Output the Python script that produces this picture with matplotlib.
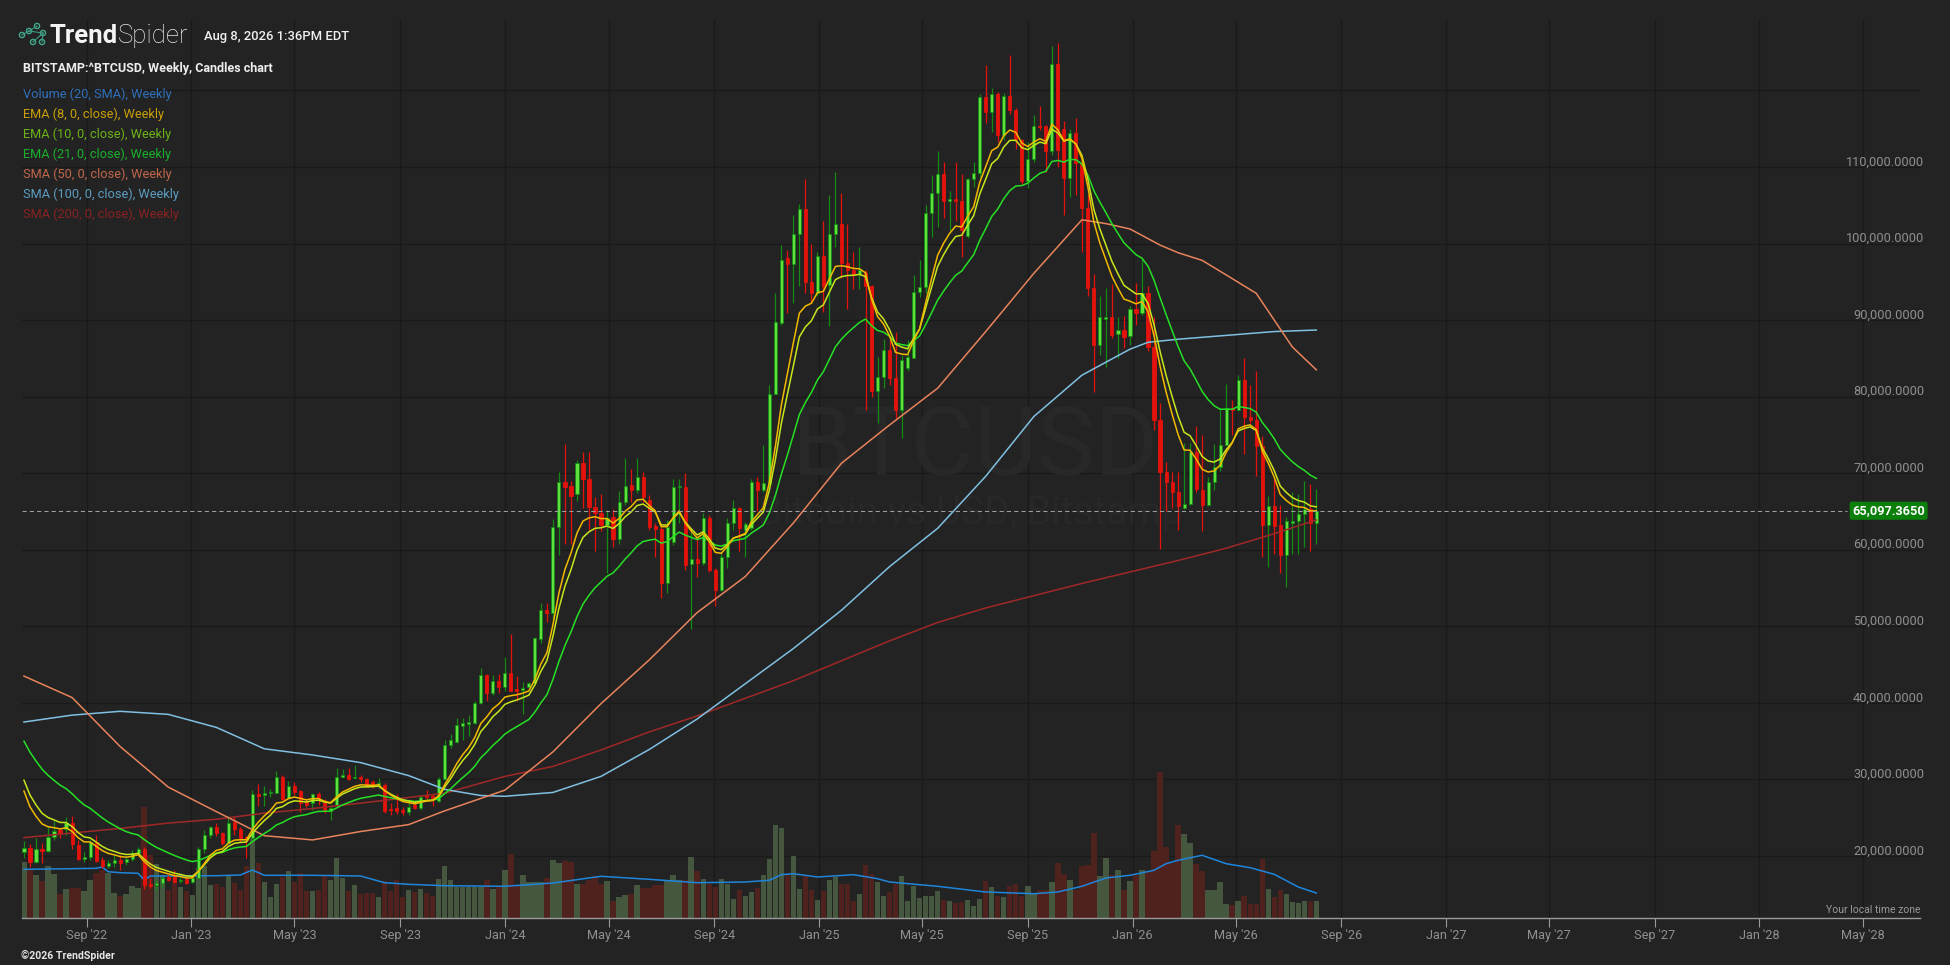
import numpy as np
import matplotlib
matplotlib.use("Agg")
import matplotlib.pyplot as plt
import matplotlib.dates as mdates
from matplotlib.transforms import blended_transform_factory, Affine2D, offset_copy, IdentityTransform
from matplotlib.patches import Circle
from matplotlib.lines import Line2D

# ---------------- data (prices in thousand USD, weekly candles) ----------------
FIRST_WEEK = "2022-06-20"
OPEN = [20.5, 21.0, 19.26, 20.9, 20.7, 22.5, 23.4, 23.5, 24.26, 21.5,
        19.6, 19.9, 21.87, 19.48, 18.74, 19.04, 19.48, 19.17, 19.6, 20.43,
        20.9, 16.35, 16.2, 16.5, 17.2, 17.2, 16.7, 16.96, 16.56, 17.1,
        20.87, 22.74, 23.74, 22.96, 21.65, 24.4, 23.48, 22.43, 22.3, 28.1,
        27.96, 28.17, 28.26, 30.35, 27.52, 29.2, 28.48, 27.0, 26.87, 28.09,
        26.96, 25.9, 26.65, 30.35, 30.57, 30.17, 30.35, 30.0, 29.7, 29.26,
        29.26, 26.2, 26.22, 26.0, 25.78, 26.65, 26.22, 27.96, 27.87, 27.2,
        30.0, 34.5, 34.9, 37.0, 37.3, 37.4, 40.0, 43.7, 41.25, 42.9,
        42.1, 43.85, 41.77, 41.7, 42.1, 42.55, 48.4, 52.1, 51.7, 63.0,
        68.9, 68.3, 67.3, 71.3, 69.3, 65.6, 64.85, 63.2, 64.3, 61.4,
        66.2, 68.5, 67.8, 69.55, 66.5, 63.1, 62.7, 55.7, 61.0, 68.2,
        68.2, 58.1, 58.75, 58.3, 64.2, 57.35, 54.75, 59.1, 63.5, 65.4,
        62.6, 62.8, 68.9, 67.8, 68.7, 80.4, 89.6, 98.1, 97.3, 101.2,
        104.5, 95.0, 93.5, 98.4, 94.6, 101.2, 102.6, 97.4, 96.6, 96.0,
        96.1, 94.4, 80.7, 82.5, 86.1, 82.4, 78.3, 83.7, 85.1, 93.7,
        94.3, 104.0, 106.6, 109.1, 105.6, 105.8, 105.6, 101.0, 108.4, 109.2,
        119.1, 117.2, 119.5, 114.2, 119.3, 117.4, 113.5, 108.2, 111.1, 115.4,
        115.4, 112.1, 123.5, 115.0, 108.6, 114.5, 110.5, 104.6, 94.2, 86.7,
        90.2, 90.4, 88.2, 88.7, 87.9, 91.5, 90.9, 93.5, 86.5, 76.9,
        70.2, 68.8, 67.6, 65.5, 66.0, 72.8, 67.8, 65.8, 68.9, 70.8,
        73.7, 78.5, 78.3, 82.2, 77.4, 77.0, 73.5, 63.2, 65.7, 63.2,
        59.3, 63.5, 63.7, 64.7, 65.3, 63.5]
HIGH = [21.9, 21.57, 22.3, 21.65, 23.83, 24.6, 23.7, 25.05, 25.2, 22.1,
        20.57, 22.1, 22.74, 19.9, 19.48, 20.1, 20.1, 19.9, 20.78, 21.2,
        21.2, 17.1, 16.87, 17.3, 17.5, 18.17, 17.1, 17.1, 17.3, 21.2,
        23.4, 23.9, 24.35, 23.17, 25.2, 25.13, 23.74, 22.6, 28.6, 29.4,
        29.13, 28.74, 31.13, 30.57, 29.83, 29.7, 28.6, 27.4, 28.26, 28.4,
        27.4, 26.6, 31.43, 31.3, 31.43, 31.87, 30.57, 30.13, 29.9, 30.13,
        29.48, 26.87, 28.09, 26.43, 26.96, 27.2, 27.96, 28.6, 28.09, 30.35,
        35.13, 35.9, 38.0, 38.0, 38.4, 40.3, 44.6, 43.8, 43.7, 43.8,
        45.95, 49.0, 43.5, 42.77, 42.77, 48.65, 53.0, 53.1, 64.0, 70.2,
        73.8, 69.0, 71.7, 72.8, 72.8, 66.9, 67.3, 65.2, 65.3, 67.7,
        72.0, 70.6, 72.0, 70.2, 67.2, 63.5, 63.0, 63.9, 69.3, 69.3,
        70.0, 62.6, 61.7, 64.85, 64.5, 57.6, 59.75, 64.1, 66.5, 65.6,
        63.6, 69.3, 69.5, 73.7, 81.5, 93.5, 99.8, 99.1, 103.7, 105.2,
        108.4, 99.9, 98.9, 102.9, 106.3, 109.4, 106.6, 102.6, 98.9, 99.6,
        96.5, 94.6, 85.2, 87.5, 87.4, 88.5, 85.4, 87.4, 95.9, 97.9,
        105.0, 108.9, 112.1, 110.7, 106.8, 110.6, 109.1, 108.5, 110.7, 119.5,
        123.3, 120.3, 119.8, 119.6, 124.6, 117.7, 113.7, 113.3, 116.8, 118.0,
        115.5, 125.8, 126.2, 116.0, 115.0, 116.4, 110.9, 106.3, 96.0, 93.1,
        94.2, 94.7, 90.4, 90.5, 91.8, 94.8, 98.1, 94.4, 90.4, 79.2,
        71.5, 70.1, 70.1, 74.0, 73.9, 76.1, 75.0, 69.5, 73.8, 78.5,
        81.7, 79.6, 82.8, 85.1, 81.5, 83.3, 74.8, 67.0, 69.3, 65.8,
        64.3, 67.5, 67.3, 69.0, 68.6, 68.0]
LOW = [19.7, 18.6, 19.13, 19.04, 20.57, 22.1, 22.4, 22.74, 20.87, 19.48,
       19.26, 19.48, 19.26, 18.4, 18.4, 18.6, 18.17, 18.8, 19.39, 20.35,
       15.65, 15.8, 15.5, 16.0, 16.78, 16.56, 16.43, 16.35, 16.43, 16.96,
       20.43, 22.4, 22.65, 21.43, 21.57, 22.74, 21.87, 19.7, 22.17, 26.57,
       26.57, 27.65, 28.17, 27.3, 27.43, 27.96, 25.78, 26.43, 26.0, 26.65,
       25.65, 24.7, 26.43, 30.13, 29.9, 30.0, 29.7, 29.04, 28.83, 28.83,
       25.57, 25.35, 25.48, 25.35, 25.35, 26.09, 26.0, 27.4, 26.52, 27.09,
       29.9, 34.1, 34.7, 35.1, 35.7, 37.3, 39.85, 40.3, 41.0, 41.25,
       41.5, 41.5, 40.3, 38.6, 41.9, 42.47, 47.8, 50.6, 51.0, 59.3,
       60.8, 60.8, 66.4, 65.4, 62.6, 59.9, 62.5, 56.9, 60.3, 60.8,
       65.85, 66.2, 67.4, 66.3, 62.6, 59.1, 53.7, 54.4, 60.6, 63.5,
       57.3, 49.7, 56.5, 58.0, 57.1, 52.6, 54.65, 57.6, 62.6, 59.9,
       59.0, 62.6, 65.0, 67.6, 68.5, 80.35, 89.4, 90.9, 92.2, 94.4,
       93.5, 92.2, 93.1, 91.1, 89.2, 99.5, 95.5, 91.5, 94.0, 94.1,
       78.3, 80.0, 76.6, 81.1, 81.5, 77.2, 74.6, 83.3, 85.0, 93.0,
       93.5, 100.9, 102.2, 103.3, 101.6, 102.9, 98.3, 100.7, 107.4, 108.7,
       115.8, 114.6, 113.3, 113.5, 116.9, 112.4, 107.6, 107.2, 110.7, 114.8,
       109.4, 111.6, 110.0, 103.7, 106.1, 106.3, 98.9, 93.1, 80.6, 85.4,
       83.9, 87.6, 85.0, 86.4, 86.7, 89.4, 90.7, 86.0, 75.6, 60.1,
       65.0, 65.5, 62.6, 65.3, 65.8, 67.5, 62.5, 65.7, 67.8, 70.3,
       73.7, 75.0, 78.2, 72.5, 76.5, 69.6, 59.0, 57.8, 59.4, 57.0,
       55.2, 59.4, 59.4, 60.4, 59.9, 60.8]
CLOSE = [21.0, 19.26, 20.87, 20.7, 22.52, 23.26, 22.96, 24.26, 21.52, 19.57,
         19.9, 21.78, 19.39, 18.74, 19.04, 19.48, 19.13, 19.57, 20.35, 20.87,
         16.2, 16.13, 16.5, 17.1, 16.87, 16.65, 16.87, 16.52, 17.1, 20.87,
         22.74, 23.83, 22.96, 21.65, 24.26, 23.48, 22.3, 22.1, 28.09, 27.87,
         28.17, 28.4, 30.26, 27.43, 29.17, 28.4, 26.87, 26.65, 28.09, 27.52,
         25.91, 26.3, 30.35, 30.6, 30.04, 30.35, 30.0, 29.13, 29.17, 29.48,
         25.91, 26.0, 25.91, 25.78, 26.43, 26.22, 27.74, 27.74, 27.52, 30.0,
         34.48, 35.1, 37.1, 37.4, 37.5, 40.0, 43.7, 41.25, 42.9, 42.1,
         43.85, 41.6, 41.5, 42.0, 42.55, 48.43, 52.1, 51.7, 63.0, 68.9,
         68.2, 67.0, 71.3, 69.3, 65.6, 64.85, 63.2, 64.1, 61.4, 66.2,
         68.3, 67.8, 69.55, 66.9, 63.0, 62.7, 55.7, 63.0, 68.2, 68.3,
         58.0, 58.75, 58.3, 64.2, 57.35, 54.75, 59.1, 63.5, 65.4, 62.8,
         63.3, 68.9, 67.8, 68.7, 80.4, 89.8, 97.9, 97.3, 101.2, 104.5,
         95.0, 93.5, 98.4, 94.4, 101.2, 102.6, 97.4, 96.5, 96.0, 96.5,
         94.4, 80.7, 82.5, 86.1, 82.4, 78.3, 84.8, 85.2, 93.7, 94.3,
         104.0, 106.6, 109.1, 105.6, 105.8, 105.6, 101.8, 108.4, 109.2, 119.1,
         117.2, 119.5, 114.2, 119.3, 117.4, 113.5, 108.2, 111.1, 115.3, 115.2,
         112.1, 123.5, 112.2, 108.6, 114.5, 110.5, 104.7, 94.2, 86.7, 90.4,
         90.4, 88.1, 88.7, 87.8, 91.5, 90.9, 93.5, 86.5, 76.9, 70.2,
         68.8, 67.6, 65.7, 66.0, 72.8, 67.9, 65.8, 68.9, 70.8, 73.7,
         78.5, 78.3, 82.2, 77.4, 76.9, 73.5, 63.2, 65.7, 63.1, 59.3,
         63.7, 63.8, 64.7, 65.3, 63.5, 65.1]
# weekly volume (arbitrary units)
VOLUME = [56, 48, 43, 37, 52, 44, 24, 29, 30, 30, 27, 38, 45, 48, 45, 25, 22, 24, 32, 30,
          111, 63, 54, 43, 28, 42, 31, 27, 23, 50, 52, 33, 34, 31, 43, 35, 28, 52, 79, 55,
          36, 21, 34, 41, 47, 36, 45, 27, 27, 28, 42, 38, 60, 40, 27, 33, 24, 25, 25, 21,
          37, 27, 38, 21, 28, 26, 29, 25, 22, 39, 52, 38, 31, 31, 31, 31, 31, 38, 29, 32,
          48, 64, 32, 43, 36, 36, 36, 40, 58, 55, 57, 56, 34, 34, 38, 42, 34, 37, 17, 21,
          23, 24, 33, 30, 30, 33, 33, 38, 43, 38, 38, 61, 47, 39, 34, 31, 39, 34, 19, 28,
          22, 26, 30, 43, 59, 93, 90, 43, 62, 29, 43, 28, 18, 27, 38, 41, 34, 34, 17, 24,
          53, 44, 36, 22, 26, 34, 42, 17, 32, 20, 22, 22, 27, 18, 17, 15, 16, 18, 12, 19,
          37, 31, 22, 21, 32, 34, 22, 32, 24, 28, 28, 36, 55, 44, 38, 28, 52, 53, 85, 42,
          60, 43, 48, 28, 37, 43, 48, 47, 67, 146, 71, 55, 93, 84, 75, 54, 47, 28, 28, 36,
          14, 13, 17, 22, 14, 14, 59, 29, 21, 28, 24, 16, 15, 17, 17, 17]
LAST_PRICE = 65097.3650

# indicator seeds / readings (week number is 1-based)
EMA_SEEDS = {8: 28.48, 10: 29.9, 21: 35.0}
SMA50_WEEK = [1, 9, 17, 25, 33, 41, 49, 57, 65, 71, 81, 89, 97, 105, 113, 121, 129, 137, 145,
              153, 161, 169, 177, 181, 185, 190, 193, 197, 201, 206, 209, 212, 216]
SMA50_VAL = [43.5, 40.7, 34.3, 29.0, 25.8, 22.65, 22.1, 23.2, 24.1, 25.9, 28.6, 33.6, 39.9, 45.6,
             51.8, 56.5, 63.5, 71.3, 76.3, 81.1, 88.5, 96.1, 103.1, 102.6, 101.9, 99.8, 98.8,
             97.8, 95.9, 93.5, 90.0, 86.5, 83.5]
SMA100_WEEK = [1, 9, 17, 25, 33, 41, 49, 57, 65, 71, 77, 81, 89, 97, 105, 113, 121, 129, 137,
               145, 153, 161, 169, 177, 185, 188, 193, 201, 209, 216]
SMA100_VAL = [37.5, 38.4, 38.9, 38.5, 36.8, 34.0, 33.2, 32.2, 30.5, 28.7, 27.9, 27.8, 28.3,
              30.4, 33.9, 37.9, 42.5, 47.1, 52.1, 57.8, 62.8, 69.6, 77.4, 82.8, 86.2, 87.1,
              87.5, 88.0, 88.5, 88.7]
SMA200_WEEK = [1, 9, 17, 25, 33, 41, 49, 57, 65, 71, 81, 89, 97, 105, 113, 121, 129, 137, 145,
               153, 161, 169, 177, 185, 193, 201, 209, 216]
SMA200_VAL = [22.4, 23.0, 23.6, 24.3, 24.8, 25.6, 26.2, 26.9, 27.65, 28.2, 30.4, 31.7, 33.85,
              36.2, 38.3, 40.6, 42.9, 45.5, 48.1, 50.5, 52.4, 54.0, 55.6, 57.1, 58.6, 60.2,
              62.1, 63.9]
VOLSMA_WEEK = [1, 9, 13, 14, 15, 17, 20, 21, 22, 25, 33, 37, 39, 41, 49, 57, 61, 65, 71, 81,
               89, 97, 105, 113, 121, 125, 127, 129, 133, 139, 143, 145, 153, 161, 169, 173,
               177, 181, 185, 189, 191, 193, 197, 201, 205, 209, 213, 216]
VOLSMA_VAL = [48.7, 49.3, 49.7, 51, 46.3, 45.3, 44.7, 38, 42, 42, 42.3, 43, 48, 42.7, 42.7, 42,
              35.3, 33.7, 32.3, 31.7, 35, 41.7, 38.7, 35.3, 36, 37.7, 43.3, 44.3, 41, 43.3,
              39.3, 36, 31.7, 26, 24.3, 26, 31.7, 40, 42.7, 47.7, 54.3, 57.7, 62.7, 54.3,
              50.3, 43.7, 31, 25]

PRICE_TICKS = [20, 30, 40, 50, 60, 70, 80, 90, 100, 110, 120]
PRICE_LABELED = [20, 30, 40, 50, 60, 70, 80, 90, 100, 110]
LEGEND = [("Volume (20, SMA), Weekly", "#2f70bb"),
          ("EMA (8, 0, close), Weekly", "#c9a006"),
          ("EMA (10, 0, close), Weekly", "#6cb318"),
          ("EMA (21, 0, close), Weekly", "#18b02c"),
          ("SMA (50, 0, close), Weekly", "#c2664a"),
          ("SMA (100, 0, close), Weekly", "#5c9dc2"),
          ("SMA (200, 0, close), Weekly", "#8a2222")]

# ---------------- styling ----------------
BG = "#232323"
GRID = "#1a1a1a"
UP_FILL, UP_EDGE, DOWN = "#5fe03e", "#138a13", "#e3120b"
VOL_UP, VOL_DOWN = "#46573f", "#50221d"
WATERMARK = "#282828"
FONT = ["Roboto", "DejaVu Sans"]
plt.rcParams["font.family"] = FONT

W, H = 1950, 965
L, R, T, B = 22, 1920, 20, 918
fig = plt.figure(figsize=(W / 100, H / 100), dpi=100, facecolor=BG)
ax = fig.add_axes([L / W, 1 - B / H, (R - L) / W, (B - T) / H])
ax.set_facecolor(BG)

O = np.array(OPEN); Hh = np.array(HIGH); Lo = np.array(LOW); C = np.array(CLOSE)
n = len(C)
weeks = np.datetime64(FIRST_WEEK) + np.arange(n) * np.timedelta64(7, "D")
x = mdates.date2num(weeks)
up = C >= O


def wk(idx):
    return x[np.array(idx) - 1]


def ema(vals, span, seed):
    a = 2.0 / (span + 1)
    out = [seed]
    for v in vals[1:]:
        out.append(out[-1] + a * (v - out[-1]))
    return np.array(out)


# volume on its own scale at the bottom of the same axes
VOL_TOP = 898.0
vol_tf = blended_transform_factory(ax.transData, Affine2D().scale(1, 1 / VOL_TOP) + ax.transAxes)
ax.bar(x, VOLUME, width=6.3, color=np.where(up, VOL_UP, VOL_DOWN), transform=vol_tf,
       zorder=1, linewidth=0)
ax.plot(wk(VOLSMA_WEEK), VOLSMA_VAL, color="#1f86dc", lw=1.1, transform=vol_tf, zorder=1.5)

# candles
ax.vlines(x, Lo, Hh, colors=np.where(up, UP_EDGE, DOWN), lw=0.9, zorder=2)
body_lo = np.minimum(O, C)
body_h = np.maximum(np.abs(C - O), 0.12)
ax.bar(x, body_h, bottom=body_lo, width=3.6, color=np.where(up, UP_FILL, DOWN),
       edgecolor=np.where(up, UP_EDGE, DOWN), linewidth=0.6, zorder=3)

# moving averages
ax.plot(wk(SMA200_WEEK), SMA200_VAL, color="#a02828", lw=1.1, zorder=4)
ax.plot(wk(SMA100_WEEK), SMA100_VAL, color="#80c0e2", lw=1.1, zorder=4)
ax.plot(wk(SMA50_WEEK), SMA50_VAL, color="#e8835c", lw=1.1, zorder=4)
ax.plot(x, ema(C, 21, EMA_SEEDS[21]), color="#25e025", lw=1.1, zorder=4)
ax.plot(x, ema(C, 10, EMA_SEEDS[10]), color="#c8e61c", lw=1.1, zorder=4)
ax.plot(x, ema(C, 8, EMA_SEEDS[8]), color="#f2b900", lw=1.1, zorder=4)

# axes limits / grid
ax.set_xlim(mdates.date2num(np.datetime64("2022-06-17T17:00")),
            mdates.date2num(np.datetime64("2028-07-06")))
ax.set_ylim(11.902, 129.195)
ax.set_yticks(PRICE_TICKS)
ax.xaxis.set_major_locator(mdates.MonthLocator(bymonth=[1, 5, 9]))
ax.xaxis.set_major_formatter(mdates.DateFormatter("%b '%y"))
ax.set_axisbelow(True)
ax.grid(True, color=GRID, lw=1.0)
for s in ["top", "left", "right"]:
    ax.spines[s].set_visible(False)
ax.spines["bottom"].set_color("#9a9a9a")
ax.spines["bottom"].set_linewidth(1.0)
ax.tick_params(axis="y", length=0, labelleft=False, labelright=False)
ax.tick_params(axis="x", colors="#9a9a9a", length=6.5, width=0.8, pad=1.5,
               labelsize=9.2, labelcolor="#8f8f8f")

# price labels on the right, inside the plot
ytr = blended_transform_factory(ax.transAxes, ax.transData)
lab_tr = offset_copy(ytr, fig=fig, x=4, y=1.5, units="dots")
for v in PRICE_LABELED:
    ax.text(1.0, v, f"{v * 1000:,.4f}", transform=lab_tr, ha="right", va="baseline",
            fontsize=9.2, color="#8f8f8f", zorder=6)

# last price line and tag
ax.axhline(LAST_PRICE / 1000, xmin=0, xmax=(1847 - L) / (R - L), color="#a0a0a0", lw=0.75,
           ls=(0, (4, 3)), zorder=5)
ax.text(1.0, LAST_PRICE / 1000, f"{LAST_PRICE:,.4f}",
        transform=offset_copy(ytr, fig=fig, x=5, y=0, units="dots"), ha="right", va="center",
        fontsize=9.2, fontweight="bold", color="white", zorder=7,
        bbox=dict(boxstyle="round,pad=0.2,rounding_size=0.15", fc="#0a7f0a", ec="none"))

ax.text(1.0, 0, "Your local time zone", transform=offset_copy(ax.transAxes, fig=fig, y=3, units="dots"),
        ha="right", va="bottom", fontsize=7.5, color="#9a9a9a", zorder=6)

# watermark
ax.text(0.502, (B - 449) / (B - T), "BTCUSD", transform=ax.transAxes, ha="center", va="center",
        fontsize=70, color=WATERMARK, zorder=0.6)
ax.text(0.5, (B - 514) / (B - T), "Bitcoin vs USD, Bitstamp", transform=ax.transAxes, ha="center",
        va="center", fontsize=28, color=WATERMARK, zorder=0.6)


# ---------------- header texts ----------------
def fx(px):
    return px / W


def fy(py):
    return 1 - py / H


ident = IdentityTransform()
icon_pts = [(22, 35), (37, 26), (43, 33), (42, 42), (33, 42), (29, 31)]
for (a, b) in [(0, 5), (5, 1), (5, 2), (2, 3), (2, 4)]:
    fig.add_artist(Line2D([icon_pts[a][0], icon_pts[b][0]], [H - icon_pts[a][1], H - icon_pts[b][1]],
                          transform=ident, color="#3d9a82", lw=0.8))
for (px_, py_) in icon_pts:
    fig.add_artist(Circle((px_, H - py_), 2.6, transform=ident, fc=BG, ec="#45a88d", lw=1.0))

t1 = fig.text(fx(50), fy(43), "Trend", fontsize=18.5, fontweight="bold", color="#f4f4f4", va="baseline")
fig.canvas.draw()
bb = t1.get_window_extent()
fig.text(bb.x1 / W, fy(43), "Spider", fontsize=18.5, fontweight="light", color="#e8e8e8", va="baseline")
fig.text(fx(204), fy(40), "Aug 8, 2026 1:36PM EDT", fontsize=9.4, fontweight="medium",
         color="#f0f0f0", va="baseline")
fig.text(fx(23), fy(72), "BITSTAMP:^BTCUSD, Weekly, Candles chart", fontsize=9.0,
         fontweight="bold", color="#eeeeee", va="baseline")
for i, (txt, col) in enumerate(LEGEND):
    fig.text(fx(23), fy(98 + 20 * i), txt, fontsize=9.2, color=col, va="baseline")
fig.text(fx(21), fy(959), "\u00a92026 TrendSpider", fontsize=7.6, fontweight="bold",
         color="#e6e6e6", va="baseline")

fig.savefig("out.png", dpi=100, facecolor=BG)
